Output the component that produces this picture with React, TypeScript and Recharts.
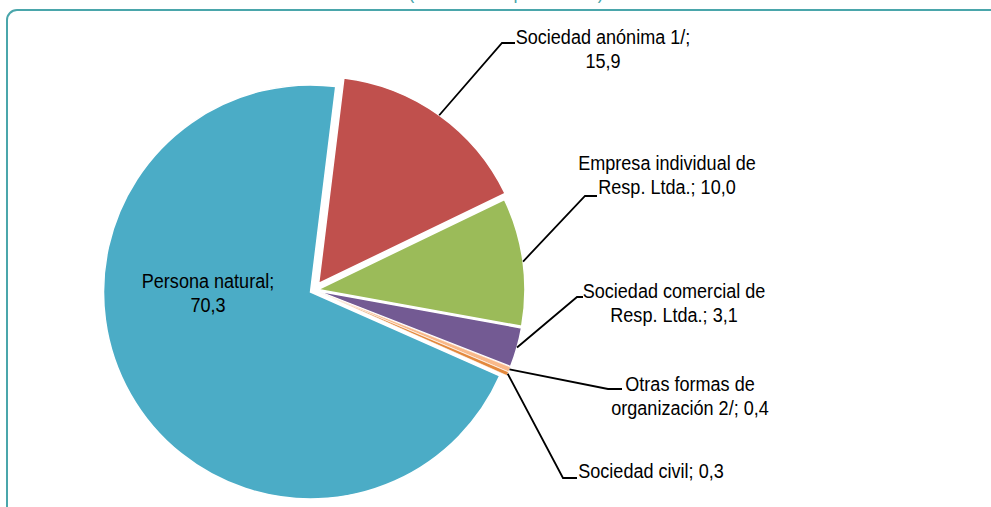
import { PieChart, Pie, Cell } from 'recharts';

// data, clockwise from the top
const NAMES = [
  'Sociedad anónima 1/',
  'Empresa individual de Resp. Ltda.',
  'Sociedad comercial de Resp. Ltda.',
  'Otras formas de organización 2/',
  'Sociedad civil',
  'Persona natural',
];
const VALUES = [15.9, 10.0, 3.1, 0.4, 0.3, 70.3];
const COLORS = ['#C0504D', '#9BBB59', '#735A93', '#F9B98A', '#E3883C', '#4BACC6'];

const fmt = (v: number) => v.toFixed(1).replace('.', ',');
const LABEL_TEXT: string[][] = [
  ['Sociedad anónima 1/;', fmt(VALUES[0])],
  ['Empresa individual de', 'Resp. Ltda.; ' + fmt(VALUES[1])],
  ['Sociedad comercial de', 'Resp. Ltda.; ' + fmt(VALUES[2])],
  ['Otras formas de', 'organización 2/; ' + fmt(VALUES[3])],
  ['Sociedad civil; ' + fmt(VALUES[4])],
  ['Persona natural;', fmt(VALUES[5])],
];

// layout
const W = 991;
const H = 507;
const BASE_CX = 314;
const BASE_CY = 290;
const RADIUS = 207;
const START = 83;
const EXPLODE = [8, 4, 4, 4, 4, 4];
const STROKE = [1.5, 1.5, 1.5, 0.6, 0.6, 1.5];
const LABEL_POS: { x: number; y: number; elbow?: [number, number]; end?: [number, number] }[] = [
  { x: 603, y: 44, elbow: [502, 43], end: [515, 43] },
  { x: 667, y: 170, elbow: [585, 196], end: [597, 196] },
  { x: 674, y: 298, elbow: [577, 297], end: [583, 297] },
  { x: 690, y: 391, elbow: [608, 389], end: [622, 389] },
  { x: 651, y: 478, elbow: [563, 478], end: [577, 478] },
  { x: 208, y: 288 },
];
const FONT = "'Liberation Sans', Arial, sans-serif";
const SQUEEZE = 0.86;
const TEAL = '#4AA6AB';
const RAD = Math.PI / 180;

const total = VALUES.reduce((a, b) => a + b, 0);
const data = NAMES.map((name, i) => ({ name, value: VALUES[i] }));

let acc = 0;
const MIDS = VALUES.map(v => {
  const a0 = START - (acc / total) * 360;
  acc += v;
  const a1 = START - (acc / total) * 360;
  return (a0 + a1) / 2;
});

const renderLabel = (slice: number) => (props: any) => {
  if (props.index !== slice) return null;
  const { cx, cy, midAngle, outerRadius } = props;
  const pos = LABEL_POS[slice];
  const sx = cx + outerRadius * Math.cos(-midAngle * RAD);
  const sy = cy + outerRadius * Math.sin(-midAngle * RAD);
  return (
    <g>
      {pos.elbow && pos.end && (
        <polyline
          points={`${sx},${sy} ${pos.elbow[0]},${pos.elbow[1]} ${pos.end[0]},${pos.end[1]}`}
          stroke="#000"
          strokeWidth={1.8}
          fill="none"
        />
      )}
      <text
        transform={`translate(${pos.x},0) scale(${SQUEEZE},1)`}
        textAnchor="middle"
        fontFamily={FONT}
        fontSize={21}
        fill="#000"
      >
        {LABEL_TEXT[slice].map((line, k) => (
          <tspan key={k} x={0} y={pos.y + k * 24}>{line}</tspan>
        ))}
      </text>
    </g>
  );
};

export default function App() {
  return (
    <div style={{ position: 'absolute', left: 0, top: 0, width: W, height: H, overflow: 'hidden', background: '#fff' }}>
      <svg width={W} height={H} style={{ position: 'absolute', left: 0, top: 0 }}>
        <rect x={7} y={10} width={1000} height={540} rx={10} fill="none" stroke={TEAL} strokeWidth={2} />
        <text
          transform={`translate(506,0) scale(${SQUEEZE},1)`}
          x={0}
          y={-1}
          textAnchor="middle"
          fontFamily={FONT}
          fontSize={21}
          fill={TEAL}
        >
          (Distribución porcentual)
        </text>
      </svg>
      <div style={{ position: 'absolute', left: 0, top: 0 }}>
        <PieChart width={W} height={H} margin={{ top: 0, right: 0, bottom: 0, left: 0 }}>
          {VALUES.map((_, s) => (
            <Pie
              key={s}
              data={data}
              dataKey="value"
              nameKey="name"
              cx={BASE_CX + EXPLODE[s] * Math.cos(MIDS[s] * RAD)}
              cy={BASE_CY - EXPLODE[s] * Math.sin(MIDS[s] * RAD)}
              outerRadius={RADIUS}
              innerRadius={0}
              startAngle={START}
              endAngle={START - 360}
              label={renderLabel(s)}
              labelLine={false}
              isAnimationActive={false}
            >
              {data.map((_, i) => (
                <Cell
                  key={i}
                  fill={i === s ? COLORS[i] : 'none'}
                  stroke={i === s ? '#fff' : 'none'}
                  strokeWidth={i === s ? STROKE[i] : 0}
                />
              ))}
            </Pie>
          ))}
        </PieChart>
      </div>
    </div>
  );
}
